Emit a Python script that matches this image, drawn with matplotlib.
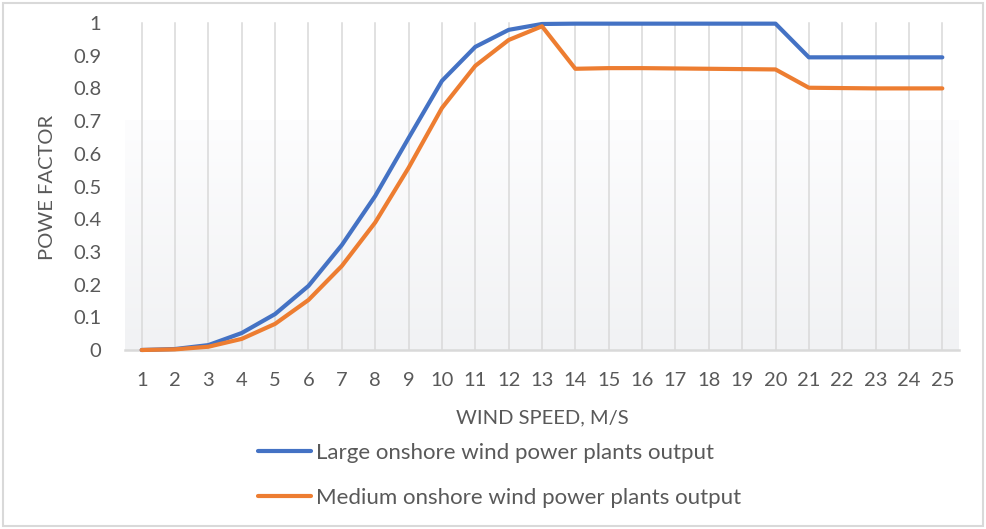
import numpy as np
import matplotlib
matplotlib.use("Agg")
import matplotlib.pyplot as plt
from matplotlib.colors import LinearSegmentedColormap
from matplotlib.patches import Rectangle

plt.rcParams['font.family'] = ['Lato', 'DejaVu Sans']

# Wind speed categories (m/s)
wind_speed = list(range(1, 26))

# Power factor curves
large_onshore = [0.0, 0.003, 0.015, 0.052, 0.11, 0.196, 0.321, 0.471, 0.648, 0.823,
                 0.927, 0.979, 0.997, 0.998, 0.998, 0.998, 0.998, 0.998, 0.998, 0.998,
                 0.895, 0.895, 0.895, 0.895, 0.895]
medium_onshore = [0.0, 0.002, 0.01, 0.034, 0.08, 0.153, 0.257, 0.39, 0.557, 0.74,
                  0.869, 0.948, 0.99, 0.86, 0.862, 0.862, 0.861, 0.86, 0.859, 0.858,
                  0.802, 0.801, 0.8, 0.8, 0.8]

y_ticks = [0, 0.1, 0.2, 0.3, 0.4, 0.5, 0.6, 0.7, 0.8, 0.9, 1]
y_tick_labels = ["0", "0.1", "0.2", "0.3", "0.4", "0.5", "0.6", "0.7", "0.8", "0.9", "1"]

series_labels = ["Large onshore wind power plants output",
                 "Medium onshore wind power plants output"]
x_title = "WIND SPEED, M/S"
y_title = "POWE FACTOR"

text_color = "#595959"
grid_color = "#d9d9d9"
blue = "#4472C4"
orange = "#ED7D31"

W, H = 986, 529
fig = plt.figure(figsize=(W / 100, H / 100), dpi=100)
fig.patch.set_facecolor("white")

left, right, bottom_px, top_px = 125, 959, 350, 23
ax = fig.add_axes([left / W, 1 - bottom_px / H, (right - left) / W, (bottom_px - top_px) / H])
ax.set_facecolor("white")

# soft gradient fill in the lower part of the plot area
cmap = LinearSegmentedColormap.from_list("bg", ["#f1f2f4", "#fdfdfe"])
grad = np.linspace(0, 1, 256).reshape(-1, 1)
ax.imshow(grad, extent=[0.5, 25.5, 0, 0.703], origin="lower", cmap=cmap,
          aspect="auto", zorder=0, interpolation="bicubic")
ax.set_xlim(0.5, 25.5)
ax.set_ylim(0, 1)

# vertical category gridlines
for xv in wind_speed:
    ax.plot([xv, xv], [0, 1], color=grid_color, lw=1.1, zorder=1, clip_on=False)

for s in ["top", "right", "left"]:
    ax.spines[s].set_visible(False)
ax.spines["bottom"].set_color(grid_color)
ax.spines["bottom"].set_linewidth(1.8)
ax.spines["bottom"].set_zorder(2)

l1, = ax.plot(wind_speed, large_onshore, color=blue, lw=3.0, solid_capstyle="round",
              solid_joinstyle="round", zorder=4, clip_on=False)
l2, = ax.plot(wind_speed, medium_onshore, color=orange, lw=3.0, solid_capstyle="round",
              solid_joinstyle="round", zorder=5, clip_on=False)

ax.set_xticks(wind_speed)
ax.set_xticklabels([str(v) for v in wind_speed])
ax.set_yticks(y_ticks)
ax.set_yticklabels(y_tick_labels)
ax.tick_params(axis="both", length=0, labelsize=14.5, labelcolor=text_color)
ax.tick_params(axis="y", pad=17)
ax.tick_params(axis="x", pad=16)

fig.text(542 / W, 1 - 418 / H, x_title, ha="center", va="center",
         fontsize=14.5, color=text_color)
fig.text(48 / W, 1 - 187 / H, y_title, ha="center", va="center", rotation=90,
         fontsize=14.5, color=text_color)

leg = fig.legend([l1, l2], series_labels, loc="upper left",
                 bbox_to_anchor=(238 / W, 1 - 423 / H), frameon=False,
                 fontsize=16, handlelength=2.39, handletextpad=0.23,
                 labelspacing=1.12, labelcolor=text_color)

# outer chart border
fig.add_artist(Rectangle((3 / W, 3 / H), (W - 6) / W, (H - 6) / H, transform=fig.transFigure,
                         fill=False, edgecolor=grid_color, lw=1.5))

fig.savefig("out.png", dpi=100, facecolor="white")
